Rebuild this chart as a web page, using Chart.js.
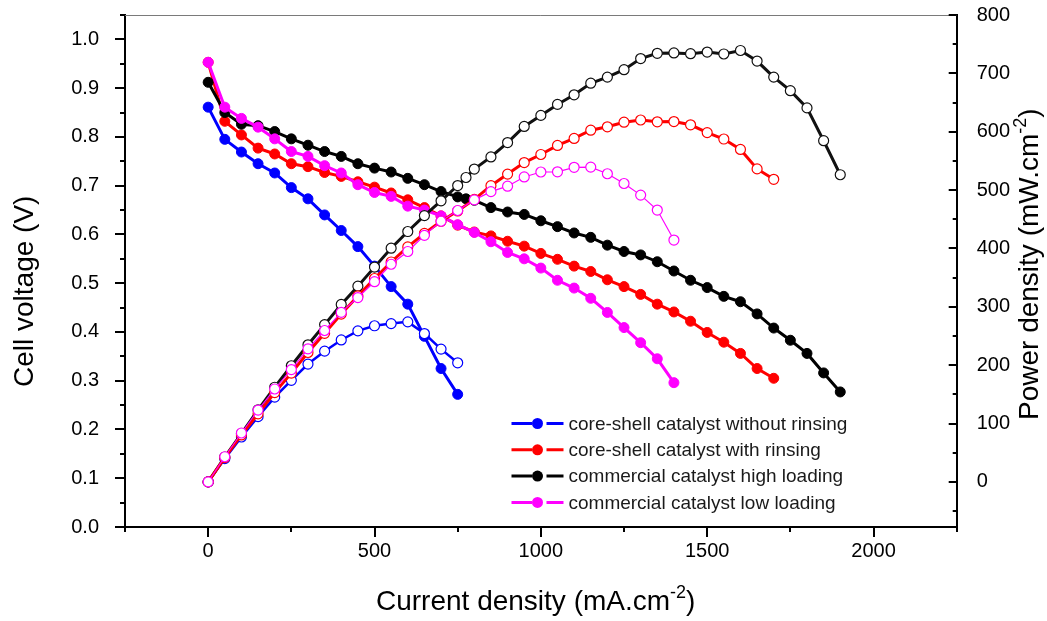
<!DOCTYPE html>
<html>
<head>
<meta charset="utf-8">
<script src="https://cdn.jsdelivr.net/npm/chart.js@4.4.0/dist/chart.umd.min.js"></script>
<style>
  html, body { margin: 0; padding: 0; background: #fff; }
  #wrap { width: 1047px; height: 621px; position: relative; }
</style>
</head>
<body>
<div id="wrap"><canvas id="myCanvas"></canvas></div>
<script>
'use strict';

// current density (mA/cm2) for each sample
const currentBlue = [0, 50, 100, 150, 200, 250, 300, 350, 400, 450, 500, 550, 600, 650, 700, 750];
const currentRed = [0, 50, 100, 150, 200, 250, 300, 350, 400, 450, 500, 550, 600, 650, 700, 750, 800, 850, 900, 950, 1000, 1050, 1100, 1150, 1200, 1250, 1300, 1350, 1400, 1450, 1500, 1550, 1600, 1650, 1700];
const currentBlack = [0, 50, 100, 150, 200, 250, 300, 350, 400, 450, 500, 550, 600, 650, 700, 750, 775, 800, 850, 900, 950, 1000, 1050, 1100, 1150, 1200, 1250, 1300, 1350, 1400, 1450, 1500, 1550, 1600, 1650, 1700, 1750, 1800, 1850, 1900];
const currentMagenta = [0, 50, 100, 150, 200, 250, 300, 350, 400, 450, 500, 550, 600, 650, 700, 750, 800, 850, 900, 950, 1000, 1050, 1100, 1150, 1200, 1250, 1300, 1350, 1400];

// cell voltage (V)
const voltageBlue = [0.861, 0.795, 0.769, 0.745, 0.726, 0.696, 0.673, 0.640, 0.608, 0.575, 0.535, 0.493, 0.457, 0.391, 0.325, 0.272];
const voltageRed = [0.953, 0.832, 0.804, 0.777, 0.765, 0.745, 0.739, 0.727, 0.719, 0.708, 0.697, 0.685, 0.671, 0.655, 0.638, 0.619, 0.605, 0.597, 0.586, 0.576, 0.561, 0.549, 0.535, 0.524, 0.507, 0.493, 0.477, 0.457, 0.441, 0.422, 0.399, 0.379, 0.356, 0.325, 0.305];
const voltageBlack = [0.912, 0.850, 0.826, 0.823, 0.811, 0.796, 0.783, 0.770, 0.760, 0.745, 0.736, 0.728, 0.715, 0.702, 0.688, 0.677, 0.673, 0.670, 0.655, 0.646, 0.641, 0.628, 0.616, 0.603, 0.594, 0.578, 0.565, 0.558, 0.544, 0.525, 0.506, 0.491, 0.473, 0.462, 0.437, 0.408, 0.383, 0.356, 0.316, 0.277];
const voltageMagenta = [0.953, 0.861, 0.838, 0.820, 0.796, 0.770, 0.760, 0.741, 0.726, 0.702, 0.686, 0.678, 0.658, 0.650, 0.638, 0.620, 0.604, 0.585, 0.563, 0.550, 0.531, 0.506, 0.490, 0.469, 0.440, 0.409, 0.378, 0.345, 0.296];

// power density (mW/cm2)
const powerBlue = [0, 39.8, 76.9, 111.8, 145.2, 174.0, 201.9, 224.0, 243.2, 258.8, 267.5, 271.2, 274.2, 254.2, 227.5, 204.0];
const powerRed = [0, 41.6, 80.4, 116.6, 153.0, 186.3, 221.7, 254.5, 287.6, 318.6, 348.5, 376.8, 402.6, 425.8, 446.6, 464.3, 484.0, 507.5, 527.4, 547.2, 561.0, 576.5, 588.5, 602.6, 608.4, 616.3, 620.1, 617.0, 617.4, 611.9, 598.5, 587.5, 569.6, 536.3, 518.5];
const powerBlack = [0, 42.5, 82.6, 123.5, 162.2, 199.0, 234.9, 269.5, 304.0, 335.3, 368.0, 400.4, 429.0, 456.3, 481.6, 507.8, 521.6, 536.0, 556.8, 581.4, 609.0, 628.0, 646.8, 663.3, 683.1, 693.6, 706.3, 725.4, 734.4, 735.0, 733.7, 736.5, 733.2, 739.2, 721.1, 693.6, 670.3, 640.8, 584.6, 526.3];
const powerMagenta = [0, 43.1, 83.8, 123.0, 159.2, 192.5, 228.0, 259.4, 290.4, 315.9, 343.0, 372.9, 394.8, 422.5, 446.6, 465.0, 483.2, 497.3, 506.7, 522.5, 531.0, 531.3, 539.0, 539.4, 528.0, 511.3, 491.4, 465.8, 414.4];

const seriesNames = ['core-shell catalyst without rinsing', 'core-shell catalyst with rinsing', 'commercial catalyst high loading', 'commercial catalyst low loading'];

// tick labels
const xTickValues = [0, 500, 1000, 1500, 2000];
const voltTickValues = [0, 0.1, 0.2, 0.3, 0.4, 0.5, 0.6, 0.7, 0.8, 0.9, 1.0];
const powerTickValues = [0, 100, 200, 300, 400, 500, 600, 700, 800];

const FONT = '"Liberation Sans", Arial, sans-serif';

function toPoints(xs, ys) {
  let pts = [];
  for (let i = 0; i < xs.length; i++) {
    pts.push({ x: xs[i], y: ys[i] });
  }
  return pts;
}

function voltageSet(name, xs, ys, color) {
  return {
    label: name,
    data: toPoints(xs, ys),
    yAxisID: 'y',
    borderColor: color,
    backgroundColor: color,
    pointBackgroundColor: color,
    pointBorderColor: color,
    pointRadius: 5,
    pointBorderWidth: 1,
    borderWidth: 3,
    tension: 0,
    fill: false
  };
}

function powerSet(name, xs, ys, color, lw) {
  return {
    label: name + ' (power)',
    data: toPoints(xs, ys),
    yAxisID: 'y1',
    borderColor: color,
    backgroundColor: '#fff',
    pointBackgroundColor: '#fff',
    pointBorderColor: color,
    pointRadius: 5,
    pointBorderWidth: 1.2,
    borderWidth: lw,
    tension: 0,
    fill: false
  };
}

const colors = ['#0000ff', '#ff0000', '#000000', '#ff00ff'];

// first dataset is drawn on top
const blueV = voltageSet(seriesNames[0], currentBlue, voltageBlue, colors[0]);
const redV = voltageSet(seriesNames[1], currentRed, voltageRed, colors[1]);
const blackV = voltageSet(seriesNames[2], currentBlack, voltageBlack, colors[2]);
const magentaV = voltageSet(seriesNames[3], currentMagenta, voltageMagenta, colors[3]);

const datasets = [
  powerSet(seriesNames[3], currentMagenta, powerMagenta, colors[3], 1.2),
  powerSet(seriesNames[1], currentRed, powerRed, colors[1], 3),
  powerSet(seriesNames[2], currentBlack, powerBlack, '#111111', 3),
  powerSet(seriesNames[0], currentBlue, powerBlue, colors[0], 2.5),
  magentaV, blackV, redV, blueV
];

const legendItems = [blueV, redV, blackV, magentaV];

function drawTitle(ctx, x, y, rot, main, sup, tail) {
  ctx.save();
  ctx.translate(x, y);
  ctx.rotate(rot);
  ctx.fillStyle = '#000';
  ctx.textAlign = 'left';
  ctx.textBaseline = 'alphabetic';
  ctx.font = '28px ' + FONT;
  ctx.fillText(main, 0, 0);
  let w = ctx.measureText(main).width;
  if (sup) {
    ctx.font = '18px ' + FONT;
    ctx.fillText(sup, w, -12);
    w += ctx.measureText(sup).width;
    ctx.font = '28px ' + FONT;
    ctx.fillText(tail, w, 0);
  }
  ctx.restore();
}

const decorPlugin = {
  id: 'decor',
  afterDraw(chart) {
    const ctx = chart.ctx;
    const area = chart.chartArea;
    const sx = chart.scales.x;
    const sv = chart.scales.y;
    const sp = chart.scales.y1;
    ctx.save();

    // top frame line
    ctx.strokeStyle = '#7a7a7a';
    ctx.lineWidth = 1;
    ctx.beginPath();
    ctx.moveTo(area.left, area.top + 0.5);
    ctx.lineTo(area.right, area.top + 0.5);
    ctx.stroke();

    ctx.strokeStyle = '#000';
    ctx.lineWidth = 2;
    ctx.beginPath();
    // bottom ticks, outward
    for (let k = -1; k <= 9; k++) {
      const px = Math.round(sx.getPixelForValue(k * 250));
      const len = k % 2 === 0 ? 10 : 5;
      ctx.moveTo(px, area.bottom);
      ctx.lineTo(px, area.bottom + len);
    }
    // left ticks, outward
    for (let k = 0; k <= 21; k++) {
      const py = Math.round(sv.getPixelForValue(k * 0.05));
      const len = k % 2 === 0 ? 10 : 5;
      ctx.moveTo(area.left, py);
      ctx.lineTo(area.left - len, py);
    }
    // right ticks, inward
    for (let k = -1; k <= 16; k++) {
      const py = Math.round(sp.getPixelForValue(k * 50));
      const len = k % 2 === 0 ? 8 : 4;
      ctx.moveTo(area.right, py);
      ctx.lineTo(area.right - len, py);
    }
    ctx.stroke();

    // axis titles
    drawTitle(ctx, 376, 610, 0, 'Current density (mA.cm', '-2', ')');
    drawTitle(ctx, 33, 387, -Math.PI / 2, 'Cell voltage (V)');
    drawTitle(ctx, 1038, 420, -Math.PI / 2, 'Power density (mW.cm', '-2', ')');

    // legend
    ctx.font = '19px ' + FONT;
    ctx.textBaseline = 'middle';
    ctx.textAlign = 'left';
    for (let i = 0; i < legendItems.length; i++) {
      const ds = legendItems[i];
      const y = 423.5 + i * 26.3;
      ctx.strokeStyle = ds.borderColor;
      ctx.lineWidth = 3;
      ctx.beginPath();
      ctx.moveTo(511.5, y);
      ctx.lineTo(532, y);
      ctx.moveTo(546.5, y);
      ctx.lineTo(563.5, y);
      ctx.stroke();
      ctx.fillStyle = ds.borderColor;
      ctx.beginPath();
      ctx.arc(537.5, y, 5.5, 0, Math.PI * 2);
      ctx.fill();
      ctx.fillStyle = '#1a1a1a';
      ctx.fillText(ds.label, 568.5, y + 1);
    }
    ctx.restore();
  }
};

function noPad(s) {
  s.paddingTop = 0;
  s.paddingBottom = 0;
  s.paddingLeft = 0;
  s.paddingRight = 0;
}

const chartSection = document.getElementById('myCanvas').getContext('2d');
let myChart = new Chart(chartSection, {
  type: 'line',
  data: { datasets: datasets },
  plugins: [decorPlugin],
  options: {
    responsive: true,
    maintainAspectRatio: false,
    animation: false,
    devicePixelRatio: 1,
    layout: { padding: { top: 15, left: 0, right: 0, bottom: 0 } },
    plugins: {
      legend: { display: false },
      tooltip: { enabled: false }
    },
    scales: {
      x: {
        type: 'linear',
        min: -250,
        max: 2250,
        afterBuildTicks: (s) => { s.ticks = xTickValues.map(v => ({ value: v })); },
        afterFit: (s) => { s.height = 94; noPad(s); },
        grid: { display: false },
        border: { display: true, color: '#000', width: 2 },
        ticks: { color: '#000', font: { family: FONT, size: 20 }, padding: 4, maxRotation: 0, autoSkip: false, callback: (v) => String(v) }
      },
      y: {
        position: 'left',
        min: 0,
        max: 1.05,
        afterBuildTicks: (s) => { s.ticks = voltTickValues.map(v => ({ value: v })); },
        afterFit: (s) => { s.width = 125; noPad(s); },
        grid: { display: false },
        border: { display: true, color: '#000', width: 2 },
        ticks: { color: '#000', font: { family: FONT, size: 20 }, padding: 18, callback: (v) => Number(v).toFixed(1) }
      },
      y1: {
        position: 'right',
        min: -77.3,
        max: 800,
        afterBuildTicks: (s) => { s.ticks = powerTickValues.map(v => ({ value: v })); },
        afterFit: (s) => { s.width = 90.3; noPad(s); },
        grid: { display: false },
        border: { display: true, color: '#000', width: 2 },
        ticks: { color: '#000', font: { family: FONT, size: 20 }, padding: 12, callback: (v) => String(v) }
      }
    }
  }
});
</script>
</body>
</html>
